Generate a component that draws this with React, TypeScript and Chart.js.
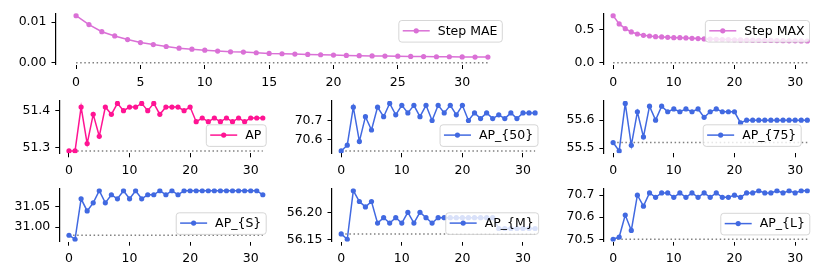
import React, { useEffect, useRef } from 'react';
import { Chart, registerables } from 'chart.js';

Chart.register(...registerables);

// ---------------- data ----------------
const STEPS = [0, 1, 2, 3, 4, 5, 6, 7, 8, 9, 10, 11, 12, 13, 14, 15, 16, 17, 18, 19, 20, 21, 22, 23, 24, 25, 26, 27, 28, 29, 30, 31, 32];

const STEP_MAE = [0.0116, 0.0094, 0.00764, 0.00659, 0.00569, 0.00496, 0.00447, 0.00398, 0.00358, 0.00333, 0.00309, 0.00285, 0.00268, 0.0026, 0.00244, 0.00228, 0.0022, 0.00211, 0.00203, 0.00195, 0.00187, 0.00179, 0.00171, 0.00167, 0.00163, 0.00159, 0.00154, 0.0015, 0.00146, 0.00146, 0.00142, 0.00138, 0.00138];
const STEP_MAX = [0.712, 0.586, 0.515, 0.465, 0.434, 0.414, 0.404, 0.394, 0.389, 0.384, 0.379, 0.379, 0.374, 0.369, 0.364, 0.36, 0.357, 0.354, 0.351, 0.349, 0.347, 0.345, 0.343, 0.341, 0.339, 0.337, 0.336, 0.334, 0.333, 0.331, 0.33, 0.329, 0.328];
const AP = [51.29, 51.29, 51.41, 51.31, 51.39, 51.33, 51.41, 51.39, 51.42, 51.4, 51.41, 51.41, 51.42, 51.4, 51.42, 51.39, 51.41, 51.41, 51.41, 51.4, 51.41, 51.37, 51.38, 51.37, 51.38, 51.37, 51.38, 51.37, 51.38, 51.37, 51.38, 51.38, 51.38];
const AP_50 = [70.54, 70.57, 70.77, 70.59, 70.72, 70.65, 70.77, 70.72, 70.79, 70.73, 70.78, 70.74, 70.78, 70.72, 70.78, 70.7, 70.78, 70.74, 70.78, 70.73, 70.78, 70.7, 70.74, 70.71, 70.74, 70.71, 70.73, 70.71, 70.74, 70.71, 70.74, 70.74, 70.74];
const AP_75 = [55.52, 55.49, 55.66, 55.51, 55.63, 55.54, 55.65, 55.6, 55.65, 55.63, 55.64, 55.63, 55.64, 55.63, 55.64, 55.61, 55.63, 55.64, 55.63, 55.63, 55.63, 55.59, 55.6, 55.6, 55.6, 55.6, 55.6, 55.6, 55.6, 55.6, 55.6, 55.6, 55.6];
const AP_S = [30.98, 30.97, 31.07, 31.04, 31.06, 31.09, 31.06, 31.08, 31.07, 31.09, 31.07, 31.09, 31.07, 31.08, 31.08, 31.09, 31.08, 31.09, 31.08, 31.09, 31.09, 31.09, 31.09, 31.09, 31.09, 31.09, 31.09, 31.09, 31.09, 31.09, 31.09, 31.09, 31.08];
const AP_M = [56.16, 56.15, 56.24, 56.22, 56.21, 56.22, 56.18, 56.19, 56.18, 56.19, 56.18, 56.2, 56.18, 56.2, 56.19, 56.18, 56.19, 56.19, 56.19, 56.19, 56.19, 56.19, 56.19, 56.19, 56.19, 56.19, 56.17, 56.17, 56.17, 56.17, 56.17, 56.17, 56.17];
const AP_L = [70.5, 70.51, 70.61, 70.54, 70.7, 70.65, 70.71, 70.69, 70.71, 70.71, 70.69, 70.71, 70.69, 70.71, 70.69, 70.71, 70.69, 70.71, 70.69, 70.69, 70.7, 70.69, 70.71, 70.71, 70.72, 70.71, 70.71, 70.72, 70.71, 70.72, 70.71, 70.72, 70.72];

const X_TICKS_FINE = [0, 5, 10, 15, 20, 25, 30];
const X_TICKS = [0, 10, 20, 30];

const Y_TICKS_MAE = [0, 0.01];
const Y_LABELS_MAE = ['0.00', '0.01'];
const Y_TICKS_MAX = [0, 0.5];
const Y_LABELS_MAX = ['0.0', '0.5'];
const Y_TICKS_AP = [51.3, 51.4];
const Y_LABELS_AP = ['51.3', '51.4'];
const Y_TICKS_AP50 = [70.6, 70.7];
const Y_LABELS_AP50 = ['70.6', '70.7'];
const Y_TICKS_AP75 = [55.5, 55.6];
const Y_LABELS_AP75 = ['55.5', '55.6'];
const Y_TICKS_APS = [31.0, 31.05];
const Y_LABELS_APS = ['31.00', '31.05'];
const Y_TICKS_APM = [56.15, 56.2];
const Y_LABELS_APM = ['56.15', '56.20'];
const Y_TICKS_APL = [70.5, 70.6, 70.7];
const Y_LABELS_APL = ['70.5', '70.6', '70.7'];

// ---------------- layout / style ----------------
const W = 830;
const H = 277;
const Y_W = 50;
const X_H = 26;
const FONT_FAMILY = '"DejaVu Sans", sans-serif';
const TICK_SIZE = 12.5;
const LEGEND_SIZE = 12.5;
const ORCHID = '#da70d6';
const PINK = '#ff1493';
const BLUE = '#4169e1';

type Panel = {
  label: string;
  values: number[];
  baseline: number;
  color: string;
  xTicks: number[];
  yTicks: number[];
  yLabels: string[];
  box: { l: number; t: number; r: number; b: number };
  legend: { rightGap: number; topGap: number };
};

const ROW1 = { t: 13.3, b: 65 };
const ROW2 = { t: 101, b: 153.3 };
const ROW3 = { t: 188.3, b: 241.7 };
const COL1 = { l: 59.3, r: 272.5 };
const COL2 = { l: 331.5, r: 544.8 };
const COL3 = { l: 603.4, r: 817 };

const PANELS: Panel[] = [
  { label: 'Step MAE', values: STEP_MAE, baseline: 0, color: ORCHID, xTicks: X_TICKS_FINE, yTicks: Y_TICKS_MAE, yLabels: Y_LABELS_MAE, box: { l: 55.5, t: ROW1.t, r: 508.5, b: ROW1.b }, legend: { rightGap: 6.7, topGap: 6.7 } },
  { label: 'Step MAX', values: STEP_MAX, baseline: 0, color: ORCHID, xTicks: X_TICKS, yTicks: Y_TICKS_MAX, yLabels: Y_LABELS_MAX, box: { l: COL3.l, t: ROW1.t, r: COL3.r, b: ROW1.b }, legend: { rightGap: 8, topGap: 6.7 } },
  { label: 'AP', values: AP, baseline: AP[0], color: PINK, xTicks: X_TICKS, yTicks: Y_TICKS_AP, yLabels: Y_LABELS_AP, box: { l: COL1.l, t: ROW2.t, r: COL1.r, b: ROW2.b }, legend: { rightGap: 6.8, topGap: 23.3 } },
  { label: 'AP_{50}', values: AP_50, baseline: AP_50[0], color: BLUE, xTicks: X_TICKS, yTicks: Y_TICKS_AP50, yLabels: Y_LABELS_AP50, box: { l: COL2.l, t: ROW2.t, r: COL2.r, b: ROW2.b }, legend: { rightGap: 7.3, topGap: 23.3 } },
  { label: 'AP_{75}', values: AP_75, baseline: AP_75[0], color: BLUE, xTicks: X_TICKS, yTicks: Y_TICKS_AP75, yLabels: Y_LABELS_AP75, box: { l: COL3.l, t: ROW2.t, r: COL3.r, b: ROW2.b }, legend: { rightGap: 16.3, topGap: 23.3 } },
  { label: 'AP_{S}', values: AP_S, baseline: AP_S[0], color: BLUE, xTicks: X_TICKS, yTicks: Y_TICKS_APS, yLabels: Y_LABELS_APS, box: { l: COL1.l, t: ROW3.t, r: COL1.r, b: ROW3.b }, legend: { rightGap: 6.8, topGap: 24 } },
  { label: 'AP_{M}', values: AP_M, baseline: AP_M[0], color: BLUE, xTicks: X_TICKS, yTicks: Y_TICKS_APM, yLabels: Y_LABELS_APM, box: { l: COL2.l, t: ROW3.t, r: COL2.r, b: ROW3.b }, legend: { rightGap: 6.7, topGap: 24 } },
  { label: 'AP_{L}', values: AP_L, baseline: AP_L[0], color: BLUE, xTicks: X_TICKS, yTicks: Y_TICKS_APL, yLabels: Y_LABELS_APL, box: { l: COL3.l, t: ROW3.t, r: COL3.r, b: ROW3.b }, legend: { rightGap: 7.7, topGap: 24.5 } },
];

const legendBoxPlugin = {
  id: 'legendBox',
  afterDatasetsDraw(chart: any, _args: any, opts: any) {
    const { ctx, chartArea } = chart;
    ctx.save();
    ctx.font = `${LEGEND_SIZE}px ${FONT_FAMILY}`;
    const tw = ctx.measureText(opts.text).width;
    const padL = 4.4, handle = 27, gap = 8, padR = 4.4;
    const w = padL + handle + gap + tw + padR;
    const h = 21.6;
    const x = chartArea.right - opts.rightGap - w;
    const y = chartArea.top + opts.topGap;
    ctx.beginPath();
    ctx.roundRect(x + 0.5, y + 0.5, w, h, 3);
    ctx.fillStyle = 'rgba(255,255,255,0.8)';
    ctx.fill();
    ctx.strokeStyle = 'rgba(204,204,204,0.8)';
    ctx.lineWidth = 1;
    ctx.stroke();
    const cy = y + h / 2;
    ctx.beginPath();
    ctx.moveTo(x + padL, cy);
    ctx.lineTo(x + padL + handle, cy);
    ctx.strokeStyle = opts.color;
    ctx.lineWidth = 1.5;
    ctx.stroke();
    ctx.beginPath();
    ctx.arc(x + padL + handle / 2, cy, 2.6, 0, Math.PI * 2);
    ctx.fillStyle = opts.color;
    ctx.fill();
    ctx.fillStyle = '#000';
    ctx.textBaseline = 'middle';
    ctx.textAlign = 'left';
    ctx.fillText(opts.text, x + padL + handle + gap, cy + 0.5);
    ctx.restore();
  },
};

function makeChart(canvas: HTMLCanvasElement, p: Panel) {
  const lo = Math.min(...p.values, p.baseline);
  const hi = Math.max(...p.values, p.baseline);
  const m = (hi - lo) * 0.05;
  const xLo = Math.min(...STEPS);
  const xHi = Math.max(...STEPS);
  const xm = (xHi - xLo) * 0.05;
  const font = { family: FONT_FAMILY, size: TICK_SIZE };
  return new Chart(canvas, {
    type: 'line',
    data: {
      datasets: [
        {
          label: p.label,
          data: STEPS.map((x, i) => ({ x, y: p.values[i] })),
          borderColor: p.color,
          backgroundColor: p.color,
          pointBackgroundColor: p.color,
          pointBorderWidth: 0,
          pointRadius: 2.6,
          borderWidth: 1.5,
          tension: 0,
        },
        {
          label: 'baseline',
          data: STEPS.map((x) => ({ x, y: p.baseline })),
          borderColor: '#808080',
          borderWidth: 1.5,
          borderDash: [1.5, 2.6],
          pointRadius: 0,
          tension: 0,
        },
      ],
    },
    options: {
      animation: false,
      responsive: false,
      devicePixelRatio: 1,
      events: [],
      layout: {
        padding: { left: p.box.l - Y_W, top: p.box.t, right: W - p.box.r, bottom: H - p.box.b - X_H },
      },
      plugins: {
        legend: { display: false },
        tooltip: { enabled: false },
        legendBox: { text: p.label, color: p.color, rightGap: p.legend.rightGap, topGap: p.legend.topGap },
      } as any,
      scales: {
        x: {
          type: 'linear',
          min: xLo - xm,
          max: xHi + xm,
          afterFit: (s: any) => { s.height = X_H; },
          afterBuildTicks: (s: any) => { s.ticks = p.xTicks.map((v) => ({ value: v })); },
          ticks: { font, color: '#000', padding: 6, maxRotation: 0, autoSkip: false, callback: (v: any) => String(v) },
          grid: { display: true, drawOnChartArea: false, drawTicks: true, tickLength: 4, color: '#000', lineWidth: 1 },
          border: { display: false },
        },
        y: {
          type: 'linear',
          min: lo - m,
          max: hi + m,
          afterFit: (s: any) => { s.width = Y_W; },
          afterBuildTicks: (s: any) => { s.ticks = p.yTicks.map((v) => ({ value: v })); },
          ticks: { font, color: '#000', padding: 5, autoSkip: false, callback: (_v: any, i: number) => p.yLabels[i] },
          grid: { display: true, drawOnChartArea: false, drawTicks: true, tickLength: 4, color: '#000', lineWidth: 1 },
          border: { display: true, color: '#000', width: 1.2 },
        },
      },
    } as any,
    plugins: [legendBoxPlugin],
  });
}

export default function App() {
  const refs = useRef<(HTMLCanvasElement | null)[]>([]);
  useEffect(() => {
    const charts = PANELS.map((p, i) => makeChart(refs.current[i] as HTMLCanvasElement, p));
    return () => charts.forEach((c) => c.destroy());
  }, []);
  return (
    <div style={{ position: 'absolute', left: 0, top: 0, width: W, height: H, background: '#fff' }}>
      {PANELS.map((p, i) => (
        <canvas
          key={p.label}
          ref={(el) => { refs.current[i] = el; }}
          width={W}
          height={H}
          style={{ position: 'absolute', left: 0, top: 0, width: W, height: H }}
        />
      ))}
    </div>
  );
}
